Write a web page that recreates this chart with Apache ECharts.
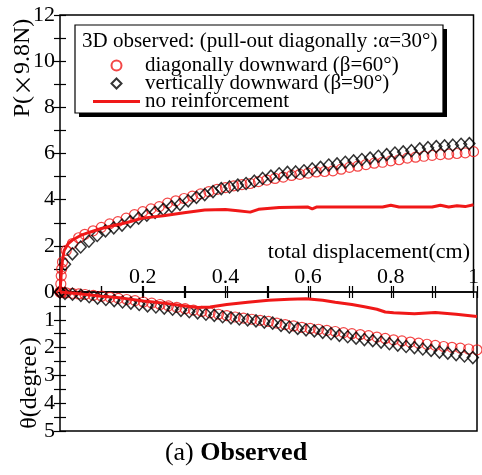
<!DOCTYPE html>
<html>
<head>
<meta charset="utf-8">
<script src="https://cdn.jsdelivr.net/npm/echarts@6/dist/echarts.min.js"></script>
<style>
html,body{margin:0;padding:0;background:#fff}
#main{width:482px;height:475px}
</style>
</head>
<body>
<div id="main"></div>
<script>
// 斜め下向き (β=60°) : 赤の白抜き丸
var dispDiag = [0,0.002,0.003,0.004,0.006,0.015,0.03,0.045,0.06,0.08,0.10,0.12,0.14,0.16,0.18,0.20,0.22,0.24,0.26,0.28,0.30,0.32,0.34,0.36,0.38,0.40,0.42,0.44,0.46,0.48,0.50,0.52,0.54,0.56,0.58,0.60,0.62,0.64,0.66,0.68,0.70,0.72,0.74,0.76,0.78,0.80,0.82,0.84,0.86,0.88,0.90,0.92,0.94,0.96,0.98,1.00];
var loadDiag = [0,0.35,0.7,1.0,1.3,1.8,2.1,2.35,2.5,2.65,2.8,2.95,3.05,3.2,3.35,3.48,3.6,3.7,3.85,3.95,4.05,4.15,4.25,4.35,4.45,4.52,4.6,4.65,4.7,4.78,4.85,4.92,4.98,5.05,5.1,5.15,5.2,5.22,5.25,5.32,5.4,5.45,5.52,5.58,5.62,5.68,5.73,5.8,5.84,5.88,5.92,5.95,5.97,6.0,6.03,6.08];
var tiltDiag = [0,0,0.01,0.01,0.02,0.03,0.05,0.07,0.09,0.12,0.15,0.19,0.23,0.27,0.31,0.36,0.4,0.45,0.5,0.55,0.6,0.65,0.7,0.75,0.8,0.85,0.9,0.94,0.98,1.02,1.06,1.12,1.17,1.22,1.27,1.31,1.34,1.38,1.42,1.46,1.5,1.53,1.57,1.62,1.67,1.72,1.76,1.8,1.84,1.88,1.92,1.96,1.99,2.02,2.05,2.08];

// 鉛直下向き (β=90°) : 黒の白抜きひし形
var dispVert = [0,0.012,0.03,0.05,0.07,0.09,0.11,0.13,0.15,0.17,0.19,0.21,0.23,0.25,0.27,0.29,0.31,0.33,0.35,0.37,0.39,0.41,0.43,0.45,0.47,0.49,0.51,0.53,0.55,0.57,0.59,0.61,0.63,0.65,0.67,0.69,0.71,0.73,0.75,0.77,0.79,0.81,0.83,0.85,0.87,0.89,0.91,0.93,0.95,0.97,0.99];
var loadVert = [0,1.2,1.65,1.95,2.2,2.45,2.65,2.78,2.9,3.05,3.2,3.33,3.45,3.58,3.7,3.8,3.95,4.1,4.22,4.35,4.48,4.55,4.63,4.7,4.8,4.92,5.02,5.12,5.18,5.2,5.25,5.33,5.4,5.5,5.55,5.62,5.68,5.74,5.8,5.88,5.95,6.02,6.07,6.12,6.2,6.25,6.3,6.33,6.36,6.4,6.43];
var tiltVert = [0,0.05,0.08,0.12,0.17,0.22,0.27,0.31,0.36,0.4,0.45,0.5,0.54,0.58,0.62,0.66,0.71,0.75,0.8,0.84,0.89,0.93,0.97,1.0,1.04,1.08,1.12,1.2,1.26,1.31,1.36,1.4,1.45,1.5,1.56,1.61,1.66,1.71,1.75,1.8,1.86,1.91,1.96,2.0,2.05,2.1,2.16,2.2,2.25,2.3,2.36];

// 無補強 : 赤の実線
var dispNone = [0,0.003,0.006,0.01,0.02,0.03,0.05,0.07,0.10,0.13,0.16,0.20,0.25,0.30,0.35,0.40,0.43,0.46,0.48,0.53,0.60,0.61,0.62,0.70,0.75,0.78,0.80,0.82,0.90,0.92,0.94,0.96,0.98,1.00];
var loadNone = [0,0.8,1.4,1.8,2.1,2.25,2.45,2.58,2.75,2.88,3.0,3.2,3.3,3.43,3.55,3.57,3.52,3.46,3.58,3.66,3.68,3.6,3.68,3.68,3.68,3.68,3.76,3.68,3.68,3.76,3.68,3.74,3.7,3.78];
var dispNoneTilt = [0,0.05,0.10,0.15,0.20,0.25,0.30,0.33,0.36,0.40,0.45,0.50,0.55,0.59,0.63,0.66,0.70,0.73,0.76,0.78,0.80,0.85,0.90,0.95,1.00];
var tiltNone = [0,0.07,0.15,0.22,0.32,0.4,0.5,0.56,0.54,0.45,0.37,0.3,0.26,0.24,0.3,0.37,0.45,0.53,0.62,0.72,0.75,0.78,0.74,0.8,0.88];

var nameDiag = 'diagonally downward (β=60°)';
var nameVert = 'vertically downward (β=90°)';
var nameNone = 'no reinforcement';

var FONT = '"Liberation Serif","Times New Roman",serif';
var RED = '#f01818';

function zip(xs, ys)
{
	var out = [];
	for (var i = 0; i < xs.length; i++) out.push([xs[i], ys[i]]);
	return out;
}

var tick = {show: true, inside: true, length: 6, lineStyle: {color: '#000', width: 1.2}};
var minor = {show: true, splitNumber: 2, length: 6, lineStyle: {color: '#000', width: 1.2}};

function xAx(gridIndex, position, showLabel)
{
	return {
		type: 'value', gridIndex: gridIndex, position: position,
		min: 0, max: 1, interval: 0.2,
		axisLine: {show: false}, splitLine: {show: false},
		axisTick: tick, minorTick: minor,
		axisLabel: {
			show: showLabel, inside: true, margin: 4,
			fontFamily: FONT, fontSize: 22, color: '#000',
			formatter: function(v){
				if (v <= 0) return '';
				return v >= 1 ? '1' : v.toFixed(1);
			}
		}
	};
}

function yAx(gridIndex, position, max, interval, inverse, showLabel, fmt)
{
	return {
		type: 'value', gridIndex: gridIndex, position: position,
		min: 0, max: max, interval: interval, inverse: inverse,
		axisLine: {show: false}, splitLine: {show: false},
		axisTick: tick, minorTick: minor,
		axisLabel: {show: showLabel, margin: 5, fontFamily: FONT, fontSize: 22, color: '#000', formatter: fmt}
	};
}

var chart = echarts.init(document.getElementById('main'), null, {renderer: 'canvas'});

var option = {
	animation: false,
	backgroundColor: '#fff',
	grid: [
		{left: 60, right: 5, top: 15, height: 277, show: true, borderColor: '#000', borderWidth: 1.5, backgroundColor: 'transparent'},
		{left: 60, right: 5, top: 292, height: 139, show: true, borderColor: '#000', borderWidth: 1.5, backgroundColor: 'transparent'}
	],
	xAxis: [
		xAx(0, 'bottom', true),
		xAx(0, 'top', false),
		xAx(1, 'top', false),
		xAx(1, 'bottom', false)
	],
	yAxis: [
		yAx(0, 'left', 12, 2, false, true, function(v){ return v > 0 ? String(v) : ''; }),
		yAx(0, 'right', 12, 2, false, false),
		yAx(1, 'left', 5, 1, true, true, function(v){ return String(v); }),
		yAx(1, 'right', 5, 1, true, false)
	],
	legend: {
		left: 88, top: 50, orient: 'vertical', z: 20,
		itemWidth: 47, itemHeight: 10, itemGap: -3,
		selectedMode: false,
		textStyle: {fontFamily: FONT, fontSize: 21, color: '#000', lineHeight: 19},
		data: [
			{name: nameDiag, icon: 'circle'},
			{name: nameVert, icon: 'path://M5,0L10,5L5,10L0,5Z'},
			{name: nameNone, icon: 'path://M0,0H47V3H0Z'}
		]
	},
	graphic: [
		{type: 'rect', z: 15, shape: {x: 79, y: 29, width: 368, height: 88}, style: {fill: '#000'}},
		{type: 'rect', z: 16, shape: {x: 75, y: 25, width: 368, height: 88}, style: {fill: '#fff', stroke: '#000', lineWidth: 1.2}},
		{type: 'text', z: 17, x: 82, y: 41, style: {text: '3D observed: (pull-out diagonally :α=30°)', font: '21px ' + FONT, fill: '#000', verticalAlign: 'middle'}},
		{type: 'text', z: 17, x: 470, y: 252, style: {text: 'total displacement(cm)', font: '22px ' + FONT, fill: '#000', align: 'right', verticalAlign: 'middle'}},
		{type: 'text', z: 17, x: 23, y: 68, rotation: Math.PI / 2, style: {
			text: '{a|P(}{b|×}{a|9.8N)}',
			rich: {a: {font: '24px ' + FONT, fill: '#000'}, b: {font: '22px "Noto Sans CJK JP"', fill: '#000'}},
			align: 'center', verticalAlign: 'middle'
		}},
		{type: 'text', z: 17, x: 30, y: 383, rotation: Math.PI / 2, style: {text: 'θ(degree)', font: '24px ' + FONT, fill: '#000', align: 'center', verticalAlign: 'middle'}},
		{type: 'text', z: 17, x: 236, y: 453, style: {
			text: '{n|(a) }{b|Observed}',
			rich: {n: {font: '26px ' + FONT, fill: '#000'}, b: {font: 'bold 26px ' + FONT, fill: '#000'}},
			align: 'center', verticalAlign: 'middle'
		}}
	],
	series: [
		{
			name: nameDiag, type: 'scatter', xAxisIndex: 0, yAxisIndex: 0,
			symbol: 'circle', symbolSize: 10,
			itemStyle: {color: 'transparent', borderColor: RED, borderWidth: 1.2},
			data: zip(dispDiag, loadDiag)
		},
		{
			name: nameDiag, type: 'scatter', xAxisIndex: 2, yAxisIndex: 2,
			symbol: 'circle', symbolSize: 10,
			itemStyle: {color: 'transparent', borderColor: RED, borderWidth: 1.2},
			data: zip(dispDiag, tiltDiag)
		},
		{
			name: nameVert, type: 'scatter', xAxisIndex: 0, yAxisIndex: 0,
			symbol: 'diamond', symbolSize: [11, 12],
			itemStyle: {color: 'transparent', borderColor: '#000', borderWidth: 1.5},
			data: zip(dispVert, loadVert)
		},
		{
			name: nameVert, type: 'scatter', xAxisIndex: 2, yAxisIndex: 2,
			symbol: 'diamond', symbolSize: [11, 12],
			itemStyle: {color: 'transparent', borderColor: '#000', borderWidth: 1.5},
			data: zip(dispVert, tiltVert)
		},
		{
			name: nameNone, type: 'line', xAxisIndex: 0, yAxisIndex: 0,
			symbol: 'none', lineStyle: {color: RED, width: 3}, itemStyle: {color: RED},
			data: zip(dispNone, loadNone)
		},
		{
			name: nameNone, type: 'line', xAxisIndex: 2, yAxisIndex: 2,
			symbol: 'none', lineStyle: {color: RED, width: 3}, itemStyle: {color: RED},
			data: zip(dispNoneTilt, tiltNone)
		}
	]
};

chart.setOption(option);
</script>
</body>
</html>
